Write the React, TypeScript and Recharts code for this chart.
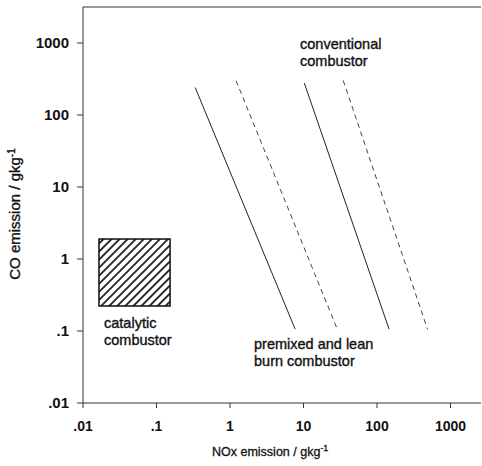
import React from "react";
import {
  ComposedChart,
  Line,
  XAxis,
  YAxis,
  ReferenceArea,
  ReferenceLine,
} from "recharts";

// decade ticks shared by both log axes
const decadeTicks = [0.01, 0.1, 1, 10, 100, 1000];
const decadeLabels = [".01", ".1", "1", "10", "100", "1000"];

// NOx / CO boundary lines (gkg-1)
const premixedLow = [
  { x: 0.336, y: 241 },
  { x: 7.7, y: 0.106 },
];
const premixedHigh = [
  { x: 1.21, y: 299 },
  { x: 28.8, y: 0.106 },
];
const conventionalLow = [
  { x: 10.25, y: 278 },
  { x: 146, y: 0.106 },
];
const conventionalHigh = [
  { x: 34.7, y: 302 },
  { x: 487, y: 0.106 },
];

// hatched catalytic region
const catalyticNox = [0.0165, 0.153];
const catalyticCo = [0.222, 1.9];

const font = "'Liberation Sans', Arial, Helvetica, sans-serif";
const ink = "#111";

const fmt = (v: number) => {
  const i = decadeTicks.findIndex((t) => Math.abs(t - v) / t < 1e-6);
  return i >= 0 ? decadeLabels[i] : String(v);
};

// scanned text looks a bit heavier than plain regular
const note = {
  fontSize: 14.5,
  fill: ink,
  stroke: ink,
  strokeWidth: 0.35,
  fontFamily: font,
};

export default function App() {
  return (
    <div
      style={{
        position: "absolute",
        left: 0,
        top: 0,
        width: 482,
        height: 466,
        background: "#fff",
      }}
    >
      <ComposedChart
        width={482}
        height={466}
        margin={{ top: 7, right: 1, bottom: 33, left: 0 }}
        style={{ fontFamily: font }}
      >
        <defs>
          <pattern
            id="hatch"
            patternUnits="userSpaceOnUse"
            width="5.7"
            height="5.7"
            patternTransform="rotate(45)"
          >
            <line x1="2.85" y1="0" x2="2.85" y2="5.7" stroke={ink} strokeWidth="1.7" />
          </pattern>
        </defs>

        {/* x axis */}
        <XAxis
          dataKey="x"
          type="number"
          scale="log"
          domain={[0.01, 2600]}
          allowDataOverflow
          ticks={decadeTicks}
          tickFormatter={fmt}
          tickSize={5}
          tickMargin={13}
          height={30}
          stroke="#333"
          tick={{ fill: ink, fontSize: 14, fontWeight: "bold", fontFamily: font }}
        />

        {/* y axis */}
        <YAxis
          dataKey="y"
          type="number"
          scale="log"
          domain={[0.01, 3162]}
          allowDataOverflow
          ticks={decadeTicks}
          tickFormatter={fmt}
          tickSize={6}
          tickMargin={8}
          width={83}
          stroke="#333"
          tick={{ fill: ink, fontSize: 15, fontWeight: "bold", fontFamily: font }}
        />

        {/* top frame */}
        <ReferenceLine y={3162} stroke="#333" strokeWidth={1} />

        <ReferenceArea
          x1={catalyticNox[0]}
          x2={catalyticNox[1]}
          y1={catalyticCo[0]}
          y2={catalyticCo[1]}
          fill="url(#hatch)"
          fillOpacity={1}
          stroke={ink}
          strokeWidth={1.5}
        />

        <Line data={premixedLow} dataKey="y" type="linear" stroke="#222" strokeWidth={1} dot={false} isAnimationActive={false} />
        <Line data={premixedHigh} dataKey="y" type="linear" stroke="#444" strokeWidth={1} strokeDasharray="5 4" dot={false} isAnimationActive={false} />
        <Line data={conventionalLow} dataKey="y" type="linear" stroke="#222" strokeWidth={1} dot={false} isAnimationActive={false} />
        <Line data={conventionalHigh} dataKey="y" type="linear" stroke="#444" strokeWidth={1} strokeDasharray="5 4" dot={false} isAnimationActive={false} />

        {/* annotations */}
        <text x={300} y={49} {...note}>conventional</text>
        <text x={300} y={66} {...note}>combustor</text>
        <text x={104} y={328} {...note}>catalytic</text>
        <text x={104} y={345} {...note}>combustor</text>
        <text x={254} y={349} {...note}>premixed and lean</text>
        <text x={254} y={366} {...note}>burn combustor</text>

        {/* axis titles */}
        <text x={212} y={456} {...note} fontSize={12.5} strokeWidth={0.3}>
          NOx emission / gkg<tspan dy={-5} fontSize={9}>-1</tspan>
        </text>
        <text
          x={20}
          y={214}
          transform="rotate(-90 20 214)"
          textAnchor="middle"
          {...note}
          fontSize={15}
        >
          CO emission / gkg<tspan dy={-5} fontSize={10}>-1</tspan>
        </text>
      </ComposedChart>
    </div>
  );
}
